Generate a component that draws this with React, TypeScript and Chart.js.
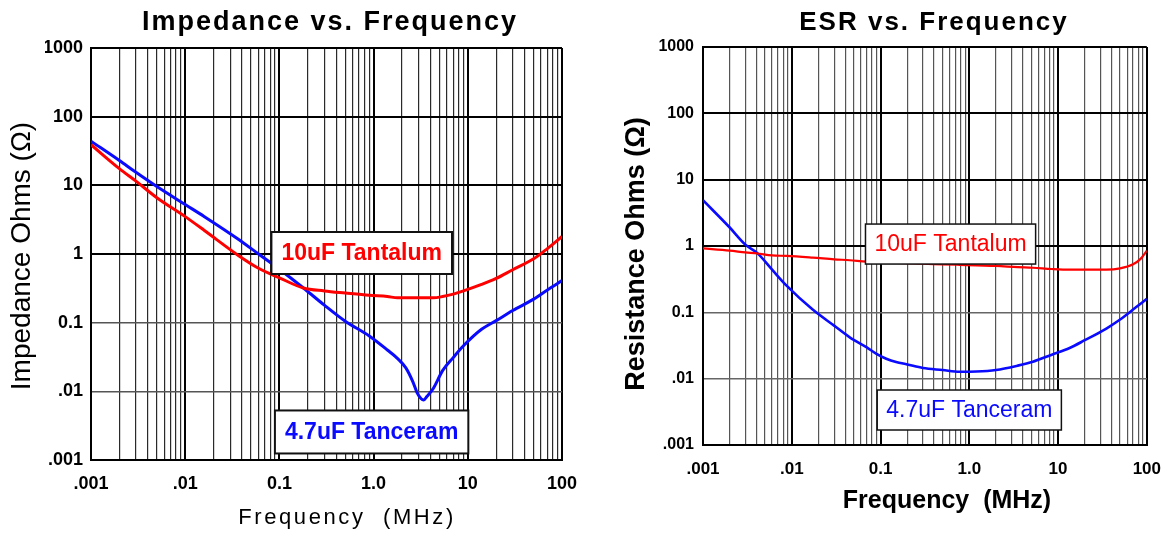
import React, { useEffect, useRef } from 'react';
import { Chart, registerables } from 'chart.js';

Chart.register(...registerables);

const FAMILY = '"Liberation Sans", Arial, Helvetica, sans-serif';

// ---------- Impedance vs. Frequency (left panel) ----------
const impedanceFreqMHz = [0.001, 0.002, 0.003, 0.005, 0.01, 0.016, 0.036, 0.06, 0.1, 0.18, 0.3, 0.5, 0.9, 1.4, 1.8, 2.2, 2.6, 2.9, 3.2, 3.4, 3.7, 4.3, 5.4, 7, 9, 14, 20, 30, 50, 70, 100];
const impedanceTanceram = [44, 23, 15.5, 9.6, 5.25, 3.5, 1.67, 1.0, 0.6, 0.32, 0.18, 0.105, 0.064, 0.04, 0.03, 0.022, 0.014, 0.0095, 0.0078, 0.0075, 0.0085, 0.011, 0.02, 0.031, 0.046, 0.08, 0.107, 0.15, 0.22, 0.3, 0.41];
const impedanceTantalum = [39, 17.5, 11.5, 6.6, 3.5, 2.2, 0.97, 0.62, 0.45, 0.32, 0.29, 0.27, 0.25, 0.24, 0.23, 0.23, 0.23, 0.23, 0.23, 0.23, 0.23, 0.23, 0.24, 0.26, 0.29, 0.36, 0.44, 0.59, 0.85, 1.2, 1.8];

// ---------- ESR vs. Frequency (right panel) ----------
const esrFreqMHz = [0.001, 0.002, 0.003, 0.0041, 0.006, 0.0088, 0.0172, 0.03, 0.045, 0.07, 0.09, 0.116, 0.15, 0.2, 0.3, 0.5, 0.78, 1.2, 2, 3.5, 5.2, 8.5, 13.5, 20, 35, 50, 70, 85, 100];
const esrTanceram = [4.9, 1.9, 1.05, 0.78, 0.44, 0.25, 0.11, 0.063, 0.042, 0.0296, 0.0237, 0.02, 0.0178, 0.0164, 0.0145, 0.0135, 0.0127, 0.0128, 0.0135, 0.0157, 0.018, 0.023, 0.029, 0.038, 0.057, 0.078, 0.11, 0.135, 0.16];
const esrTantalum = [0.92, 0.85, 0.8, 0.77, 0.72, 0.71, 0.67, 0.63, 0.61, 0.58, 0.575, 0.57, 0.56, 0.55, 0.54, 0.53, 0.52, 0.51, 0.5, 0.48, 0.47, 0.45, 0.44, 0.44, 0.44, 0.46, 0.53, 0.64, 0.85];

// ---------- Axis ticks ----------
const xDecades = [0.001, 0.01, 0.1, 1, 10, 100];
const xDecadeLabels = ['.001', '.01', '0.1', '1.0', '10', '100'];
const yDecades = [0.001, 0.01, 0.1, 1, 10, 100, 1000];
const yDecadeLabels = ['.001', '.01', '0.1', '1', '10', '100', '1000'];

const seriesNames = ['10uF Tantalum', '4.7uF Tanceram'];
const chartTitles = ['Impedance vs. Frequency', 'ESR vs. Frequency'];
const yTitles = ['Impedance Ohms (Ω)', 'Resistance Ohms (Ω)'];
const xTitle = 'Frequency  (MHz)';

const RED = '#ff0000';
const BLUE = '#0a0aff';

const log10 = (v: number) => Math.log(v) / Math.LN10;
const isDecade = (v: number) => Math.abs(log10(v) - Math.round(log10(v))) < 1e-6;
const labelFor = (v: number, decades: number[], labels: string[]) => {
  const i = decades.findIndex((d) => Math.abs(log10(d) - log10(v)) < 1e-6);
  return i >= 0 ? labels[i] : '';
};
const xGridValues: number[] = (() => {
  const out: number[] = [];
  for (let e = -3; e < 2; e++) {
    for (let m = 1; m < 10; m++) out.push(Number((m * Math.pow(10, e)).toPrecision(6)));
  }
  out.push(100);
  return out;
})();

type Label = { text: string; x: number; y: number; font: string; spacing?: number; rotate?: boolean };
type Note = { text: string; fx: number; fy: number; font: string; color: string; padX: number; h: number; border: number };

function makeTextPlugin(labels: Label[], notes: Note[]) {
  return {
    id: 'panelTexts',
    afterDatasetsDraw(chart: any) {
      const { ctx } = chart;
      const xs = chart.scales.x;
      const ys = chart.scales.y;
      notes.forEach((n) => {
        const cx = xs.getPixelForValue(n.fx);
        const cy = ys.getPixelForValue(n.fy);
        ctx.save();
        ctx.font = n.font;
        const w = ctx.measureText(n.text).width + 2 * n.padX;
        ctx.fillStyle = '#ffffff';
        ctx.fillRect(cx - w / 2, cy - n.h / 2, w, n.h);
        ctx.lineWidth = n.border;
        ctx.strokeStyle = '#111';
        ctx.strokeRect(cx - w / 2, cy - n.h / 2, w, n.h);
        ctx.fillStyle = n.color;
        ctx.textAlign = 'center';
        ctx.textBaseline = 'middle';
        ctx.fillText(n.text, cx, cy + 1);
        ctx.restore();
      });
    },
    afterDraw(chart: any) {
      const { ctx } = chart;
      labels.forEach((l) => {
        ctx.save();
        ctx.font = l.font;
        ctx.fillStyle = '#000';
        ctx.textAlign = 'center';
        ctx.textBaseline = 'middle';
        if (l.spacing) (ctx as any).letterSpacing = l.spacing + 'px';
        ctx.translate(l.x, l.y);
        if (l.rotate) ctx.rotate(-Math.PI / 2);
        ctx.fillText(l.text, 0, 0);
        ctx.restore();
      });
    },
  };
}

type PanelSpec = {
  left: number;
  width: number;
  freq: number[];
  tanceram: number[];
  tantalum: number[];
  padding: { left: number; right: number; top: number; bottom: number };
  yWidth: number;
  xHeight: number;
  yTickSize: number;
  xTickSize: number;
  yPad: number;
  xPad: number;
  minorColor: string;
  lowColor: string;
  redWidth: number;
  blueWidth: number;
  labels: Label[];
  notes: Note[];
};

function Panel({ spec }: { spec: PanelSpec }) {
  const ref = useRef<HTMLCanvasElement | null>(null);
  useEffect(() => {
    if (!ref.current) return;
    const chart = new Chart(ref.current, {
      type: 'line',
      data: {
        datasets: [
          {
            label: seriesNames[0],
            data: spec.freq.map((f, i) => ({ x: f, y: spec.tantalum[i] })),
            borderColor: RED,
            borderWidth: spec.redWidth,
            pointRadius: 0,
            fill: false,
          },
          {
            label: seriesNames[1],
            data: spec.freq.map((f, i) => ({ x: f, y: spec.tanceram[i] })),
            borderColor: BLUE,
            borderWidth: spec.blueWidth,
            pointRadius: 0,
            fill: false,
          },
        ],
      },
      options: {
        responsive: false,
        animation: false,
        layout: { padding: spec.padding },
        elements: { line: { cubicInterpolationMode: 'monotone' } },
        plugins: {
          legend: { display: false },
          tooltip: { enabled: false },
          title: { display: false },
        },
        scales: {
          x: {
            type: 'logarithmic',
            min: 0.001,
            max: 100,
            afterBuildTicks: (s: any) => {
              s.ticks = xGridValues.map((v) => ({ value: v }));
            },
            afterFit: (s: any) => {
              s.height = spec.xHeight;
            },
            ticks: {
              autoSkip: false,
              maxRotation: 0,
              minRotation: 0,
              padding: spec.xPad,
              color: '#000',
              font: { family: FAMILY, size: spec.xTickSize, weight: 'bold' },
              callback: (v: any) => labelFor(Number(v), xDecades, xDecadeLabels),
            },
            grid: {
              drawTicks: false,
              tickLength: 0,
              color: (c: any) => (c.tick && isDecade(c.tick.value) ? '#000' : spec.minorColor),
              lineWidth: (c: any) => (c.tick && isDecade(c.tick.value) ? 2 : 1.2),
            },
            border: { color: '#000', width: 2 },
          },
          y: {
            type: 'logarithmic',
            min: 0.001,
            max: 1000,
            afterBuildTicks: (s: any) => {
              s.ticks = yDecades.map((v) => ({ value: v }));
            },
            afterFit: (s: any) => {
              s.width = spec.yWidth;
            },
            ticks: {
              autoSkip: false,
              padding: spec.yPad,
              color: '#000',
              font: { family: FAMILY, size: spec.yTickSize, weight: 'bold' },
              callback: (v: any) => labelFor(Number(v), yDecades, yDecadeLabels),
            },
            grid: {
              drawTicks: false,
              tickLength: 0,
              color: (c: any) => (c.tick && c.tick.value < 0.5 ? spec.lowColor : '#000'),
              lineWidth: (c: any) => (c.tick && c.tick.value < 0.5 ? 1.5 : 2),
            },
            border: { color: '#000', width: 2 },
          },
        },
      } as any,
      plugins: [makeTextPlugin(spec.labels, spec.notes)],
    });
    return () => chart.destroy();
  }, [spec]);
  return (
    <canvas
      ref={ref}
      width={spec.width}
      height={536}
      style={{ position: 'absolute', left: spec.left, top: 0, width: spec.width, height: 536 }}
    />
  );
}

const leftSpec: PanelSpec = {
  left: 0,
  width: 590,
  freq: impedanceFreqMHz,
  tanceram: impedanceTanceram,
  tantalum: impedanceTantalum,
  padding: { left: 45, right: 24, top: 48, bottom: 36 },
  yWidth: 46,
  xHeight: 40,
  yTickSize: 18,
  xTickSize: 18,
  yPad: 8,
  xPad: 13,
  minorColor: '#2a2a2a',
  lowColor: '#555',
  redWidth: 3,
  blueWidth: 3,
  labels: [
    { text: chartTitles[0], x: 330, y: 23, font: `bold 27px ${FAMILY}`, spacing: 2 },
    { text: yTitles[0], x: 22, y: 256, font: `28px ${FAMILY}`, rotate: true },
    { text: xTitle, x: 347, y: 518, font: `22px ${FAMILY}`, spacing: 2.6 },
  ],
  notes: [
    { text: seriesNames[0], fx: 0.748, fy: 1.034, font: `bold 23px ${FAMILY}`, color: RED, padX: 10, h: 42, border: 2 },
    { text: seriesNames[1], fx: 0.953, fy: 0.00256, font: `bold 23px ${FAMILY}`, color: BLUE, padX: 10, h: 43, border: 2 },
  ],
};

const rightSpec: PanelSpec = {
  left: 590,
  width: 585,
  freq: esrFreqMHz,
  tanceram: esrTanceram,
  tantalum: esrTantalum,
  padding: { left: 60, right: 19, top: 47, bottom: 51 },
  yWidth: 53,
  xHeight: 40,
  yTickSize: 16,
  xTickSize: 17,
  yPad: 9,
  xPad: 14,
  minorColor: '#555',
  lowColor: '#666',
  redWidth: 2.2,
  blueWidth: 2.6,
  labels: [
    { text: chartTitles[1], x: 344, y: 23, font: `bold 26px ${FAMILY}`, spacing: 2 },
    { text: yTitles[1], x: 47, y: 254, font: `bold 27px ${FAMILY}`, rotate: true },
    { text: xTitle, x: 357, y: 501, font: `bold 25px ${FAMILY}` },
  ],
  notes: [
    { text: seriesNames[0], fx: 0.615, fy: 1.07, font: `23px ${FAMILY}`, color: RED, padX: 9, h: 40, border: 1.5 },
    { text: seriesNames[1], fx: 1.0, fy: 0.00337, font: `23px ${FAMILY}`, color: BLUE, padX: 9, h: 40, border: 1.5 },
  ],
};

export default function App() {
  return (
    <div
      style={{
        position: 'absolute',
        left: 0,
        top: 0,
        width: 1175,
        height: 536,
        background: '#ffffff',
        overflow: 'hidden',
      }}
    >
      <Panel spec={leftSpec} />
      <Panel spec={rightSpec} />
    </div>
  );
}
